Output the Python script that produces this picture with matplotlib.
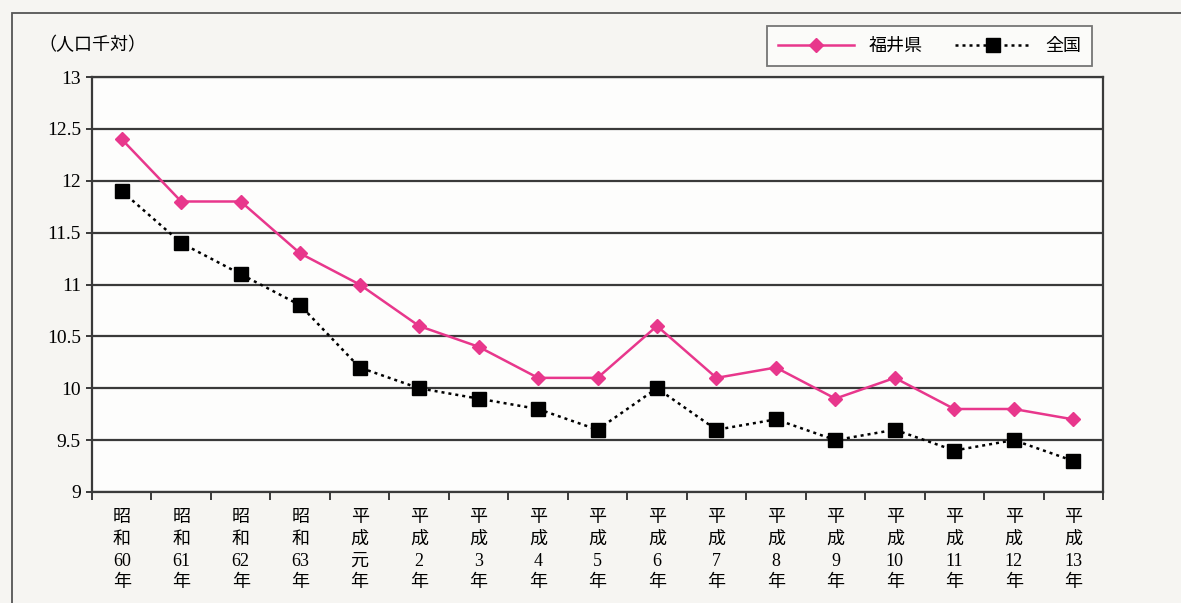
import matplotlib
matplotlib.use('Agg')
import matplotlib.pyplot as plt
from matplotlib.patches import Rectangle

plt.rcParams['font.family'] = ['Liberation Serif', 'Noto Sans CJK JP', 'DejaVu Sans']

YEARS = ["昭和60年", "昭和61年", "昭和62年", "昭和63年", "平成元年", "平成2年", "平成3年",
         "平成4年", "平成5年", "平成6年", "平成7年", "平成8年", "平成9年", "平成10年",
         "平成11年", "平成12年", "平成13年"]
FUKUI = [12.4, 11.8, 11.8, 11.3, 11.0, 10.6, 10.4, 10.1, 10.1, 10.6, 10.1, 10.2,
         9.9, 10.1, 9.8, 9.8, 9.7]
NATIONAL = [11.9, 11.4, 11.1, 10.8, 10.2, 10.0, 9.9, 9.8, 9.6, 10.0, 9.6, 9.7,
            9.5, 9.6, 9.4, 9.5, 9.3]
Y_TICKS = [9, 9.5, 10, 10.5, 11, 11.5, 12, 12.5, 13]

PINK = '#E8378C'
GRID = '#3a3a3a'


def stack_label(s):
    # split "平成10年" into vertical lines: 平 / 成 / 10 / 年
    era, rest = s[:2], s[2:-1]
    return "\n".join([era[0], era[1], rest, s[-1]])


fig = plt.figure(figsize=(11.81, 6.03), dpi=100)
fig.patch.set_facecolor('#f6f5f2')
fig.patches.append(Rectangle((12/1181, -0.1), 1.2, 1 - 13/603 + 0.1, transform=fig.transFigure,
                             fill=False, edgecolor='#555555', lw=1.3))

ax = fig.add_axes([92/1181, 1 - 492/603, (1103-92)/1181, (492-77)/603])
ax.set_facecolor('#fdfdfc')

x = list(range(len(YEARS)))
ax.plot(x, FUKUI, color=PINK, lw=1.8, marker='D', ms=7, mfc=PINK, mec=PINK,
        label='福井県', zorder=4)
ax.plot(x, NATIONAL, color='black', lw=1.8, ls=(0, (1.2, 1.6)), marker='s', ms=10.5,
        mfc='black', mec='black', label='全国', zorder=3)

ax.set_xlim(-0.5, len(YEARS) - 0.5)
ax.set_ylim(9, 13)
ax.set_yticks(Y_TICKS)
ax.set_yticklabels([f"{t:g}" for t in Y_TICKS], fontsize=14)
ax.yaxis.grid(True, color=GRID, lw=1.6)
ax.set_axisbelow(True)

ax.set_xticks([i - 0.5 for i in range(len(YEARS) + 1)], minor=False)
ax.set_xticklabels([])
ax.set_xticks(x, minor=True)
ax.set_xticklabels([stack_label(s) for s in YEARS], minor=True, fontsize=13,
                   linespacing=1.38, va='top')
ax.tick_params(axis='x', which='major', direction='out', length=6, width=1.4, color=GRID)
ax.tick_params(axis='x', which='minor', length=0, pad=12)
ax.tick_params(axis='y', direction='out', length=4, width=1.4, color=GRID, pad=4)

for side in ['left', 'right', 'bottom', 'top']:
    ax.spines[side].set_color(GRID)
    ax.spines[side].set_linewidth(1.6)

fig.text(38/1181, 1 - 45/603, '（人口千対）', fontsize=13, va='center', ha='left',
         family=['Noto Sans CJK JP'])

leg = fig.legend(loc='upper right', bbox_to_anchor=(1092/1181, 1 - 26/603), ncol=2,
                 frameon=True, fancybox=False, edgecolor='#555555',
                 handlelength=4.2, columnspacing=1.8, borderpad=0.6, borderaxespad=0,
                 prop={'family': ['Noto Sans CJK JP'], 'size': 13})
leg.get_frame().set_linewidth(1.3)
leg.get_frame().set_facecolor('#fdfdfc')

fig.savefig('out.png', dpi=100, facecolor=fig.get_facecolor())
